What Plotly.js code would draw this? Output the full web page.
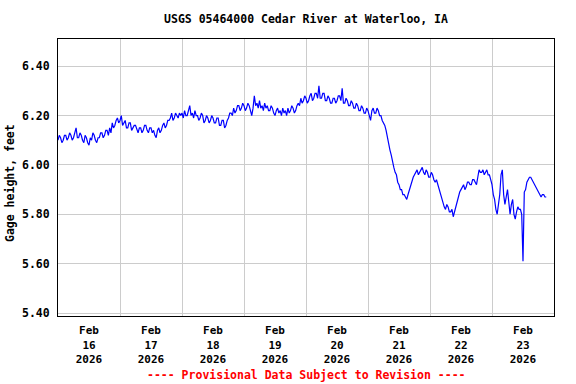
<!DOCTYPE html>
<html>
<head>
<meta charset="utf-8">
<script src="https://cdn.plot.ly/plotly-3.0.1.min.js"></script>
<style>html,body{margin:0;padding:0;background:#fff;}#chart{width:576px;height:384px;}</style>
</head>
<body>
<div id="chart"></div>
<script>
// Half-hourly gage height (feet), one array per day, starting at 00:00
const startDate = "2026-02-16";
const stepMinutes = 30;
const feb16 = [6.10,6.12,6.11,6.09,6.10,6.12,6.12,6.10,6.11,6.13,6.12,6.10,6.11,6.13,6.15,6.11,6.11,6.13,6.12,6.10,6.09,6.12,6.11,6.09,6.08,6.11,6.10,6.13,6.12,6.10,6.09,6.11,6.11,6.13,6.13,6.11,6.12,6.14,6.14,6.12,6.15,6.13,6.17,6.15,6.16,6.18,6.19,6.17];
const feb17 = [6.18,6.20,6.16,6.17,6.18,6.15,6.15,6.17,6.17,6.14,6.15,6.16,6.16,6.14,6.13,6.15,6.15,6.13,6.14,6.16,6.16,6.14,6.13,6.15,6.15,6.13,6.14,6.12,6.11,6.14,6.15,6.13,6.14,6.16,6.17,6.15,6.16,6.18,6.18,6.19,6.21,6.18,6.19,6.21,6.20,6.19,6.21,6.20];
const feb18 = [6.21,6.19,6.22,6.20,6.20,6.22,6.24,6.20,6.21,6.19,6.22,6.20,6.20,6.18,6.19,6.21,6.20,6.17,6.18,6.20,6.19,6.17,6.18,6.20,6.19,6.17,6.17,6.19,6.19,6.16,6.16,6.18,6.18,6.15,6.16,6.18,6.19,6.21,6.21,6.20,6.23,6.21,6.22,6.24,6.24,6.22,6.23,6.25];
const feb19 = [6.24,6.22,6.23,6.25,6.24,6.22,6.20,6.23,6.28,6.24,6.25,6.23,6.26,6.23,6.24,6.22,6.25,6.23,6.24,6.22,6.22,6.24,6.23,6.21,6.20,6.22,6.23,6.21,6.22,6.20,6.23,6.21,6.22,6.20,6.23,6.21,6.22,6.24,6.23,6.21,6.22,6.24,6.25,6.24,6.27,6.25,6.26,6.28];
const feb20 = [6.27,6.25,6.26,6.28,6.29,6.26,6.27,6.29,6.29,6.27,6.32,6.27,6.27,6.29,6.29,6.26,6.26,6.28,6.27,6.25,6.25,6.27,6.27,6.25,6.26,6.28,6.28,6.26,6.31,6.25,6.25,6.27,6.26,6.24,6.24,6.26,6.25,6.23,6.23,6.25,6.24,6.22,6.22,6.24,6.23,6.21,6.21,6.23];
const feb21 = [6.22,6.20,6.18,6.22,6.23,6.21,6.21,6.23,6.22,6.20,6.20,6.18,6.17,6.16,6.14,6.11,6.09,6.06,6.04,6.01,5.99,5.97,5.96,5.93,5.92,5.90,5.90,5.88,5.88,5.87,5.86,5.88,5.90,5.92,5.94,5.95,5.96,5.97,5.98,5.96,5.97,5.98,5.99,5.97,5.96,5.98,5.97,5.95];
const feb22 = [5.95,5.97,5.96,5.94,5.93,5.94,5.92,5.90,5.88,5.86,5.84,5.83,5.82,5.84,5.83,5.81,5.81,5.82,5.79,5.81,5.84,5.86,5.87,5.89,5.90,5.91,5.92,5.90,5.91,5.93,5.93,5.92,5.92,5.94,5.94,5.93,5.92,5.95,5.98,5.97,5.97,5.98,5.96,5.97,5.98,5.96,5.96,5.94];
const feb23 = [5.92,5.88,5.86,5.82,5.80,5.84,5.88,5.96,5.98,5.88,5.84,5.87,5.90,5.85,5.80,5.84,5.86,5.80,5.78,5.81,5.83,5.82,5.82,5.80,5.61,5.89,5.90,5.93,5.94,5.95,5.95,5.94,5.93,5.92,5.91,5.90,5.89,5.88,5.87,5.88,5.88,5.87,5.87];
const days = [feb16, feb17, feb18, feb19, feb20, feb21, feb22, feb23];

const titleText = "USGS 05464000 Cedar River at Waterloo, IA";
const yTitle = "Gage height, feet";
const footer = "---- Provisional Data Subject to Revision ----";

const xs = [], ys = [];
const base = new Date(startDate + "T00:00:00Z").getTime();
days.forEach((arr, d) => {
  arr.forEach((v, i) => {
    const t = new Date(base + d * 86400000 + i * stepMinutes * 60000);
    xs.push(t.toISOString().slice(0, 19).replace("T", " "));
    ys.push(v);
  });
});

const fam = "DejaVu Sans Mono, monospace";
const fs = 11.5;
const trace = {
  x: xs, y: ys, type: "scatter", mode: "lines",
  line: {color: "#0000ff", width: 1.2},
  hoverinfo: "skip"
};

const layout = {
  width: 576, height: 384,
  margin: {l: 58, r: 22, t: 39, b: 68, pad: 0},
  paper_bgcolor: "#ffffff", plot_bgcolor: "#ffffff",
  showlegend: false,
  font: {family: fam, size: fs, color: "#000", weight: "bold"},
  title: {
    text: titleText, x: 0.5, xref: "paper", y: 1 - 19/384, yref: "container",
    xanchor: "center", yanchor: "middle",
    font: {family: fam, size: fs, color: "#000", weight: "bold"}
  },
  xaxis: {
    type: "date",
    range: ["2026-02-16 00:00", "2026-02-24 00:00"],
    dtick: 86400000, tick0: "2026-02-16",
    ticklabelmode: "period",
    tickformat: "%b<br>%d<br>%Y",
    tickfont: {family: fam, size: 11, color: "#000", weight: "bold"},
    showgrid: true, gridcolor: "#cccccc", gridwidth: 1,
    showline: true, linecolor: "#000", linewidth: 1, mirror: true,
    ticks: "outside", ticklen: 4, tickcolor: "rgba(0,0,0,0)",
    zeroline: false, fixedrange: true
  },
  yaxis: {
    range: [5.388, 6.51],
    tick0: 5.4, dtick: 0.2, tickformat: ".2f",
    tickfont: {family: fam, size: fs, color: "#000", weight: "bold"},
    showgrid: true, gridcolor: "#cccccc", gridwidth: 1,
    showline: true, linecolor: "#000", linewidth: 1, mirror: true,
    ticks: "outside", ticklen: 5, tickcolor: "rgba(0,0,0,0)",
    zeroline: false, fixedrange: true
  },
  annotations: [
    {
      text: yTitle, xref: "paper", yref: "paper",
      x: (10 - 58) / 496, y: (316 - 183) / 277,
      xanchor: "center", yanchor: "middle", textangle: -90, showarrow: false,
      font: {family: fam, size: fs, color: "#000", weight: "bold"}
    },
    {
      text: footer, xref: "paper", yref: "paper",
      x: 0.5, y: (316 - 375) / 277,
      xanchor: "center", yanchor: "middle", showarrow: false,
      font: {family: fam, size: fs, color: "#ff0000", weight: "bold"}
    }
  ]
};

Plotly.newPlot("chart", [trace], layout, {displayModeBar: false, staticPlot: true});
</script>
</body>
</html>
